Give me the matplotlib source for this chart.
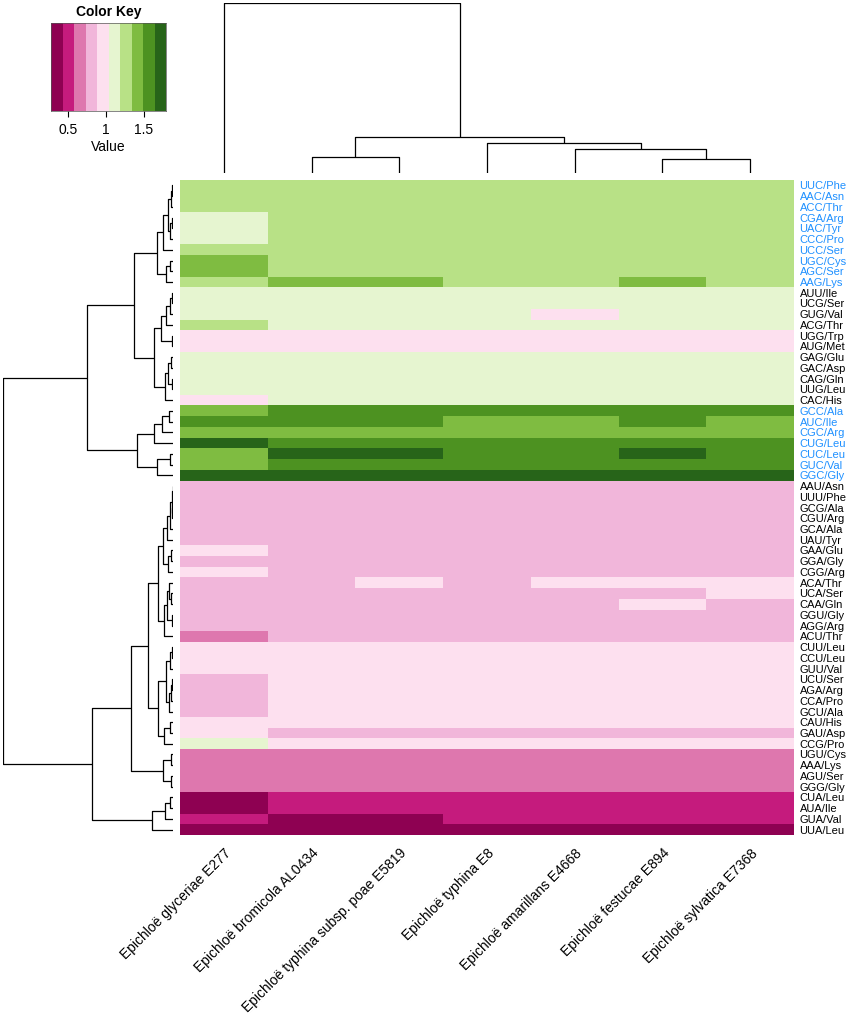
import numpy as np
import matplotlib.pyplot as plt
from matplotlib.colors import ListedColormap, BoundaryNorm

plt.rcParams['font.family'] = ['Liberation Sans', 'DejaVu Sans']

strains = ["Epichloë glyceriae E277", "Epichloë bromicola AL0434",
           "Epichloë typhina subsp. poae E5819", "Epichloë typhina E8",
           "Epichloë amarillans E4668", "Epichloë festucae E894",
           "Epichloë sylvatica E7368"]

codons = ["UUC/Phe", "AAC/Asn", "ACC/Thr", "CGA/Arg", "UAC/Tyr", "CCC/Pro",
          "UCC/Ser", "UGC/Cys", "AGC/Ser", "AAG/Lys", "AUU/Ile", "UCG/Ser",
          "GUG/Val", "ACG/Thr", "UGG/Trp", "AUG/Met", "GAG/Glu", "GAC/Asp",
          "CAG/Gln", "UUG/Leu", "CAC/His", "GCC/Ala", "AUC/Ile", "CGC/Arg",
          "CUG/Leu", "CUC/Leu", "GUC/Val", "GGC/Gly", "AAU/Asn", "UUU/Phe",
          "GCG/Ala", "CGU/Arg", "GCA/Ala", "UAU/Tyr", "GAA/Glu", "GGA/Gly",
          "CGG/Arg", "ACA/Thr", "UCA/Ser", "CAA/Gln", "GGU/Gly", "AGG/Arg",
          "ACU/Thr", "CUU/Leu", "CCU/Leu", "GUU/Val", "UCU/Ser", "AGA/Arg",
          "CCA/Pro", "GCU/Ala", "CAU/His", "GAU/Asp", "CCG/Pro", "UGU/Cys",
          "AAA/Lys", "AGU/Ser", "GGG/Gly", "CUA/Leu", "AUA/Ile", "GUA/Val",
          "UUA/Leu"]

# codons drawn in blue on the right
preferred = ["UUC/Phe", "AAC/Asn", "ACC/Thr", "CGA/Arg", "UAC/Tyr", "CCC/Pro",
             "UCC/Ser", "UGC/Cys", "AGC/Ser", "AAG/Lys", "GCC/Ala", "AUC/Ile",
             "CGC/Arg", "CUG/Leu", "CUC/Leu", "GUC/Val", "GGC/Gly"]

# RSCU values, one row per codon, one column per strain
rscu = [
    [1.28, 1.26, 1.26, 1.27, 1.25, 1.27, 1.26],
    [1.29, 1.27, 1.26, 1.28, 1.27, 1.28, 1.27],
    [1.25, 1.23, 1.24, 1.25, 1.24, 1.26, 1.25],
    [1.12, 1.24, 1.25, 1.23, 1.22, 1.24, 1.23],
    [1.15, 1.27, 1.26, 1.28, 1.27, 1.27, 1.28],
    [1.13, 1.29, 1.28, 1.30, 1.29, 1.31, 1.30],
    [1.24, 1.30, 1.29, 1.31, 1.32, 1.30, 1.31],
    [1.38, 1.30, 1.31, 1.29, 1.30, 1.32, 1.31],
    [1.36, 1.28, 1.30, 1.29, 1.28, 1.31, 1.30],
    [1.29, 1.36, 1.35, 1.32, 1.31, 1.35, 1.33],
    [1.08, 1.10, 1.09, 1.11, 1.10, 1.12, 1.11],
    [1.10, 1.12, 1.11, 1.09, 1.08, 1.10, 1.11],
    [1.06, 1.09, 1.08, 1.07, 1.02, 1.08, 1.07],
    [1.21, 1.12, 1.11, 1.13, 1.12, 1.14, 1.13],
    [1.00, 1.00, 0.99, 1.00, 1.01, 1.00, 0.99],
    [1.00, 1.00, 1.00, 1.00, 1.00, 1.00, 1.00],
    [1.13, 1.11, 1.12, 1.10, 1.11, 1.12, 1.11],
    [1.12, 1.13, 1.12, 1.14, 1.13, 1.12, 1.13],
    [1.14, 1.12, 1.13, 1.12, 1.11, 1.13, 1.12],
    [1.10, 1.11, 1.10, 1.12, 1.11, 1.10, 1.11],
    [1.01, 1.09, 1.10, 1.08, 1.09, 1.10, 1.09],
    [1.45, 1.55, 1.54, 1.53, 1.52, 1.54, 1.53],
    [1.52, 1.53, 1.52, 1.46, 1.45, 1.50, 1.47],
    [1.42, 1.44, 1.43, 1.41, 1.42, 1.44, 1.43],
    [1.68, 1.58, 1.57, 1.59, 1.58, 1.57, 1.58],
    [1.44, 1.66, 1.65, 1.60, 1.61, 1.67, 1.62],
    [1.43, 1.56, 1.55, 1.57, 1.56, 1.55, 1.56],
    [1.72, 1.70, 1.71, 1.69, 1.70, 1.71, 1.70],
    [0.79, 0.80, 0.81, 0.80, 0.79, 0.80, 0.81],
    [0.78, 0.79, 0.80, 0.79, 0.78, 0.80, 0.79],
    [0.80, 0.81, 0.80, 0.82, 0.81, 0.80, 0.81],
    [0.81, 0.80, 0.82, 0.81, 0.80, 0.82, 0.81],
    [0.79, 0.78, 0.79, 0.80, 0.79, 0.78, 0.80],
    [0.82, 0.81, 0.83, 0.82, 0.81, 0.82, 0.83],
    [0.90, 0.80, 0.81, 0.80, 0.82, 0.81, 0.80],
    [0.83, 0.82, 0.84, 0.83, 0.82, 0.83, 0.84],
    [0.89, 0.81, 0.82, 0.81, 0.80, 0.82, 0.81],
    [0.84, 0.85, 0.89, 0.86, 0.90, 0.89, 0.91],
    [0.82, 0.83, 0.84, 0.85, 0.86, 0.87, 0.90],
    [0.82, 0.81, 0.83, 0.82, 0.84, 0.89, 0.86],
    [0.78, 0.79, 0.78, 0.80, 0.79, 0.78, 0.79],
    [0.79, 0.80, 0.79, 0.78, 0.80, 0.79, 0.80],
    [0.71, 0.78, 0.77, 0.79, 0.78, 0.77, 0.78],
    [0.94, 0.95, 0.94, 0.96, 0.95, 0.94, 0.95],
    [0.95, 0.96, 0.95, 0.94, 0.96, 0.95, 0.96],
    [0.96, 0.95, 0.96, 0.95, 0.94, 0.96, 0.95],
    [0.86, 0.95, 0.94, 0.96, 0.95, 0.94, 0.95],
    [0.84, 0.94, 0.95, 0.94, 0.96, 0.95, 0.94],
    [0.85, 0.96, 0.95, 0.96, 0.95, 0.94, 0.96],
    [0.87, 0.95, 0.96, 0.95, 0.94, 0.95, 0.96],
    [0.93, 0.94, 0.93, 0.95, 0.94, 0.93, 0.94],
    [0.91, 0.86, 0.87, 0.86, 0.87, 0.86, 0.87],
    [1.05, 0.92, 0.93, 0.92, 0.94, 0.93, 0.92],
    [0.66, 0.65, 0.66, 0.67, 0.66, 0.65, 0.66],
    [0.65, 0.66, 0.65, 0.64, 0.65, 0.66, 0.65],
    [0.64, 0.65, 0.66, 0.65, 0.64, 0.65, 0.66],
    [0.66, 0.67, 0.66, 0.65, 0.66, 0.67, 0.66],
    [0.38, 0.50, 0.51, 0.50, 0.49, 0.50, 0.51],
    [0.40, 0.52, 0.51, 0.52, 0.50, 0.51, 0.52],
    [0.49, 0.41, 0.42, 0.47, 0.48, 0.47, 0.48],
    [0.36, 0.33, 0.34, 0.35, 0.36, 0.35, 0.34],
]

# row / column trees as (left, right, height), leaves are row / column indices
t01_06 = (((0, 1, 0.5), 2, 1.5), ((3, 4, 0.8), 5, 2.5), 5.0)
t_a1a = ((t01_06, 6, 9.7), ((7, 8, 2.5), 9, 7.3), 16.3)
t11_16 = ((((10, 11, 0.8), 12, 3.0), 13, 7.0), (14, 15, 0.5), 12.0)
t17_21 = (((16, 17, 1.5), (18, 19, 1.2), 5.0), 20, 8.0)
t_a2 = ((((21, 22, 4.0), 23, 10.7), 24, 18.7), ((25, 26, 3.0), 27, 16.3), 36.0)
t_a = ((t_a1a, (t11_16, t17_21, 18.7), 39.0), t_a2, 85.7)
t29_37 = (((((28, 29, 0.3), (30, 31, 0.5), 1.2), 32, 3.0), 33, 6.0),
          ((34, 35, 2.0), 36, 4.5), 9.7)
t38_43 = (((37, (38, 39, 1.5), 3.5), (40, 41, 0.8), 5.5), 42, 9.0)
t44_53 = ((((43, 44, 1.0), 45, 2.5), (((46, 47, 0.8), 48, 1.8), 49, 3.5), 7.3),
          ((50, 51, 3.0), 52, 9.0), 14.7)
t_b = (((((t29_37, t38_43, 15.3), t44_53, 25.3),
         ((53, 54, 2.0), (55, 56, 2.0), 9.7), 42.3)),
       (((57, 58, 3.0), 59, 8.0), 60, 21.0), 80.7)
row_tree = (t_a, t_b, 170.0)

col_tree = (0, ((1, 2, 16.0), (3, (4, (5, 6, 14.0), 24.0), 30.0), 36.2), 170.0)

key_colors = ['#8E0152', '#C51B7D', '#DE77AE', '#F1B6DA', '#FDE0EF',
              '#E6F5D0', '#B8E186', '#7FBC41', '#4D9221', '#276419']
key_breaks = np.linspace(0.28, 1.79, 11)


def draw_tree(ax, node, top):
    if isinstance(node, int):
        return node + 0.5, 0.0
    left, right, h = node
    p1, h1 = draw_tree(ax, left, top)
    p2, h2 = draw_tree(ax, right, top)
    pos = [p1, p1, p2, p2]
    hgt = [h1, h, h, h2]
    if top:
        ax.plot(pos, hgt, color='black', lw=0.9, solid_capstyle='butt')
    else:
        ax.plot(hgt, pos, color='black', lw=0.9, solid_capstyle='butt')
    return (p1 + p2) / 2, h


W, H = 851, 1022
fig = plt.figure(figsize=(W / 100, H / 100), dpi=100)


def px_axes(x0, y0, x1, y1):
    return fig.add_axes([x0 / W, 1 - y1 / H, (x1 - x0) / W, (y1 - y0) / H])


cmap = ListedColormap(key_colors)
norm = BoundaryNorm(key_breaks, cmap.N)
data = np.array(rscu)
nrow, ncol = data.shape

ax = px_axes(180, 180, 794, 835)
ax.pcolormesh(np.arange(ncol + 1), np.arange(nrow + 1), data,
              cmap=cmap, norm=norm)
ax.set_xlim(0, ncol)
ax.set_ylim(nrow, 0)
for s in ax.spines.values():
    s.set_visible(False)
ax.yaxis.tick_right()
ax.set_yticks(np.arange(nrow) + 0.5)
ax.set_yticklabels(codons, fontsize=8)
for lab in ax.get_yticklabels():
    lab.set_color('#1E90FF' if lab.get_text() in preferred else 'black')
ax.set_xticks(np.arange(ncol) + 0.5)
ax.set_xticklabels(strains, fontsize=10, rotation=45, ha='right',
                   va='top', rotation_mode='anchor')
ax.tick_params(length=0, pad=4)
ax.tick_params(axis='x', pad=8)

# column dendrogram
axt = px_axes(180, 2.7, 794, 173)
draw_tree(axt, col_tree, True)
axt.set_xlim(0, ncol)
axt.set_ylim(0, 170)
axt.axis('off')

# row dendrogram
axl = px_axes(2.7, 180, 173, 835)
draw_tree(axl, row_tree, False)
axl.set_ylim(nrow, 0)
axl.set_xlim(170, 0)
axl.axis('off')

# colour key
axk = px_axes(51, 23, 166, 111)
axk.pcolormesh(key_breaks, [0, 1], np.array([key_breaks[:-1] + 0.0755]),
               cmap=cmap, norm=norm)
axk.set_xlim(key_breaks[0], key_breaks[-1])
axk.set_ylim(0, 1)
axk.set_yticks([])
axk.set_xticks([0.5, 1, 1.5])
axk.set_xticklabels(['0.5', '1', '1.5'], fontsize=10)
axk.tick_params(axis='x', length=4.5, width=0.8, pad=4)
axk.set_xlabel('Value', fontsize=10, labelpad=2)
axk.set_title('Color Key', fontsize=10, fontweight='bold', pad=5)
for s in axk.spines.values():
    s.set_linewidth(0.5)
    s.set_color('#555555')

fig.savefig('out.png', dpi=100)
